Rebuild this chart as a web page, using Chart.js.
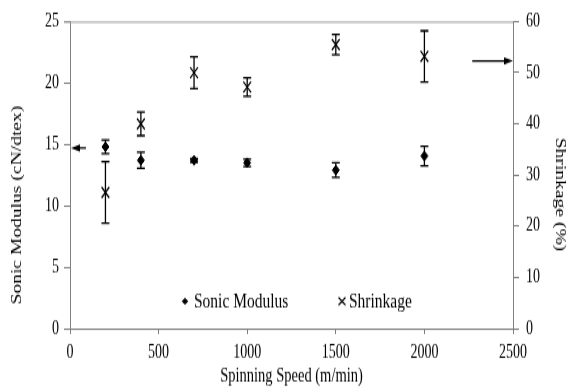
<!DOCTYPE html>
<html>
<head>
<meta charset="utf-8">
<script src="https://cdn.jsdelivr.net/npm/chart.js@4/dist/chart.umd.min.js"></script>
<style>
  html, body { margin: 0; padding: 0; background: #fff; }
  body { width: 573px; height: 390px; }
  /* the figure is drawn short and stretched to full height */
  #wrap { width: 573px; height: 279px; transform: scaleY(1.39785); transform-origin: 0 0; }
</style>
</head>
<body>
<div id="wrap"><canvas id="c" width="573" height="279"></canvas></div>
<script>
// Spinning speed (m/min)
const speeds = [200, 400, 700, 1000, 1500, 2000];
// Sonic modulus (cN/dtex) and its error bars
const modulus = [14.8, 13.7, 13.7, 13.5, 12.9, 14.05];
const modulusErr = [0.55, 0.65, 0.15, 0.3, 0.6, 0.8];
// Shrinkage (%) and its error bars
const shrinkage = [26.6, 40.0, 50.0, 47.2, 55.5, 53.2];
const shrinkageErr = [6.0, 2.3, 3.1, 1.8, 2.0, 5.0];

// Arrows marking which axis each series belongs to
const modulusArrow = { y: 14.7, from: 90, to: 0 };
const shrinkageArrow = { y: 52.3, from: 2270, to: 2500 };

const SERIF = "'Liberation Serif', 'Times New Roman', serif";
const AXIS = '#808080';
const FS = 14;

const errorBars = {
  id: 'errorBars',
  afterDatasetsDraw(chart) {
    const ctx = chart.ctx;
    const xs = chart.scales.x;
    const sets = [
      { vals: modulus, errs: modulusErr, scale: chart.scales.y },
      { vals: shrinkage, errs: shrinkageErr, scale: chart.scales.y1 }
    ];
    ctx.save();
    ctx.strokeStyle = '#000';
    ctx.lineWidth = 1.3;
    sets.forEach(s => {
      speeds.forEach((sp, i) => {
        const px = xs.getPixelForValue(sp);
        const top = s.scale.getPixelForValue(s.vals[i] + s.errs[i]);
        const bot = s.scale.getPixelForValue(s.vals[i] - s.errs[i]);
        ctx.beginPath();
        ctx.moveTo(px, top); ctx.lineTo(px, bot);
        ctx.moveTo(px - 4, top); ctx.lineTo(px + 4, top);
        ctx.moveTo(px - 4, bot); ctx.lineTo(px + 4, bot);
        ctx.stroke();
      });
    });
    ctx.restore();
  }
};

function arrow(ctx, x1, y, x2) {
  const dir = Math.sign(x2 - x1);
  ctx.beginPath();
  ctx.moveTo(x1, y); ctx.lineTo(x2 - dir * 6, y);
  ctx.stroke();
  ctx.beginPath();
  ctx.moveTo(x2, y);
  ctx.lineTo(x2 - dir * 9, y - 2.6);
  ctx.lineTo(x2 - dir * 9, y + 2.6);
  ctx.closePath();
  ctx.fill();
}

function verticalText(ctx, text, x, y, angle) {
  ctx.save();
  ctx.translate(x, y);
  ctx.rotate(angle);
  ctx.textAlign = 'center';
  ctx.textBaseline = 'middle';
  ctx.fillText(text, 0, 0);
  ctx.restore();
}

const extras = {
  id: 'extras',
  beforeDatasetsDraw(chart) {
    const ctx = chart.ctx;
    const a = chart.chartArea;
    ctx.save();
    ctx.strokeStyle = '#a0a0a0';
    ctx.lineWidth = 1;
    ctx.beginPath();
    ctx.moveTo(a.left - 6, a.top + 0.5);
    ctx.lineTo(a.right, a.top + 0.5);
    ctx.stroke();
    ctx.restore();
  },
  afterDraw(chart) {
    const ctx = chart.ctx;
    const xs = chart.scales.x, yl = chart.scales.y, yr = chart.scales.y1;
    ctx.save();
    ctx.strokeStyle = '#000';
    ctx.fillStyle = '#000';
    ctx.lineWidth = 1.2;
    arrow(ctx, xs.getPixelForValue(modulusArrow.from), yl.getPixelForValue(modulusArrow.y),
      xs.getPixelForValue(modulusArrow.to) + 1);
    arrow(ctx, xs.getPixelForValue(shrinkageArrow.from), yr.getPixelForValue(shrinkageArrow.y),
      xs.getPixelForValue(shrinkageArrow.to));

    // axis titles for the two value axes
    ctx.font = FS + 'px ' + SERIF;
    verticalText(ctx, 'Sonic Modulus (cN/dtex)', 17, 146.7, -Math.PI / 2);
    verticalText(ctx, 'Shrinkage (%)', 560, 139.1, Math.PI / 2);

    // legend inside the plot area
    const ly = 215.5;
    ctx.font = '15.5px ' + SERIF;
    ctx.textBaseline = 'middle';
    ctx.textAlign = 'left';
    ctx.beginPath();
    ctx.moveTo(185, ly - 2.6); ctx.lineTo(188.3, ly); ctx.lineTo(185, ly + 2.6); ctx.lineTo(181.7, ly);
    ctx.closePath(); ctx.fill();
    ctx.fillText('Sonic Modulus', 194, ly);
    ctx.lineWidth = 1.1;
    ctx.beginPath();
    ctx.moveTo(338.5, ly - 2.8); ctx.lineTo(345.5, ly + 2.8);
    ctx.moveTo(345.5, ly - 2.8); ctx.lineTo(338.5, ly + 2.8);
    ctx.stroke();
    ctx.fillText('Shrinkage', 349, ly);
    ctx.restore();
  }
};

const tickFont = { family: SERIF, size: FS };

new Chart(document.getElementById('c'), {
  type: 'scatter',
  data: {
    datasets: [
      {
        label: 'Sonic Modulus',
        data: speeds.map((s, i) => ({ x: s, y: modulus[i] })),
        yAxisID: 'y',
        pointStyle: 'rectRot',
        pointRadius: 3.5,
        backgroundColor: '#000',
        borderColor: '#000',
        borderWidth: 1
      },
      {
        label: 'Shrinkage',
        data: speeds.map((s, i) => ({ x: s, y: shrinkage[i] })),
        yAxisID: 'y1',
        pointStyle: 'crossRot',
        pointRadius: 5.5,
        backgroundColor: '#000',
        borderColor: '#000',
        borderWidth: 1.3
      }
    ]
  },
  options: {
    responsive: false,
    animation: false,
    layout: { padding: { top: 14, left: 0, right: 0, bottom: 0 } },
    plugins: { legend: { display: false }, tooltip: { enabled: false } },
    scales: {
      x: {
        type: 'linear', min: 0, max: 2500,
        ticks: { stepSize: 500, font: tickFont, color: '#000', padding: 5, callback: v => String(v) },
        grid: { drawOnChartArea: false, tickLength: 4, color: AXIS },
        border: { color: AXIS },
        title: { display: true, text: 'Spinning Speed (m/min)', font: { family: SERIF, size: 14.5 }, color: '#000', padding: { top: 0, bottom: 1 } },
        afterFit(s) { s.height = 44; }
      },
      y: {
        position: 'left', min: 0, max: 25,
        ticks: { stepSize: 5, font: tickFont, color: '#000', padding: 5 },
        grid: { drawOnChartArea: false, tickLength: 6, color: AXIS },
        border: { color: AXIS },
        afterFit(s) { s.width = 70; }
      },
      y1: {
        position: 'right', min: 0, max: 60,
        ticks: { stepSize: 10, font: tickFont, color: '#000', padding: 7 },
        grid: { drawOnChartArea: false, tickLength: 6, color: AXIS },
        border: { color: AXIS },
        afterFit(s) { s.width = 60; }
      }
    }
  },
  plugins: [errorBars, extras]
});
</script>
</body>
</html>
